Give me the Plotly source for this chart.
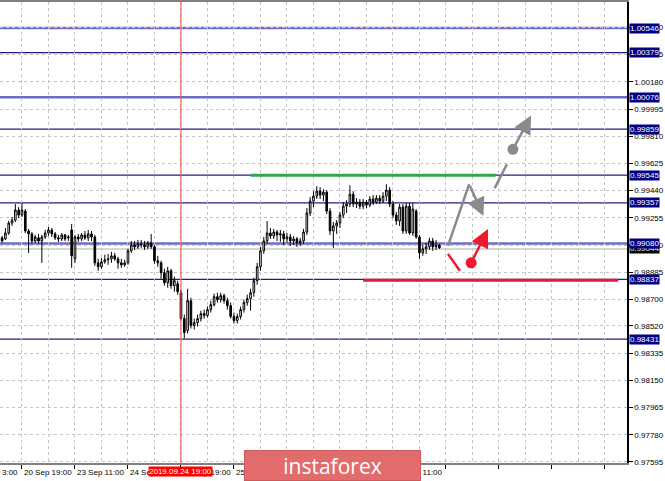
import plotly.graph_objects as go

# ---------------- data (H1 candles) ----------------
opens = [0.99119, 0.99112, 0.99152, 0.99220, 0.99240, 0.99308, 0.99274, 0.99301, 0.99166, 0.99146,
         0.99098, 0.99119, 0.99098, 0.99125, 0.99152, 0.99173, 0.99146, 0.99119, 0.99112, 0.99139,
         0.99119, 0.99173, 0.98976, 0.99125, 0.99112, 0.99139, 0.99119, 0.99146, 0.99125, 0.98949,
         0.98922, 0.98956, 0.98970, 0.98976, 0.98997, 0.98976, 0.98949, 0.98936, 0.98949, 0.99031,
         0.99071, 0.99058, 0.99078, 0.99071, 0.99058, 0.99085, 0.99058, 0.98963, 0.98949, 0.98882,
         0.98814, 0.98895, 0.98794, 0.98807, 0.98746, 0.98570, 0.98489, 0.98692, 0.98523, 0.98543,
         0.98570, 0.98604, 0.98591, 0.98631, 0.98665, 0.98719, 0.98699, 0.98726, 0.98692, 0.98658,
         0.98584, 0.98557, 0.98584, 0.98631, 0.98679, 0.98706, 0.98746, 0.98828, 0.98922, 0.99031,
         0.99098, 0.99152, 0.99132, 0.99159, 0.99139, 0.99146, 0.99112, 0.99125, 0.99098, 0.99112,
         0.99085, 0.99098, 0.99159, 0.99288, 0.99369, 0.99403, 0.99437, 0.99410, 0.99430, 0.99301,
         0.99166, 0.99200, 0.99220, 0.99274, 0.99335, 0.99349, 0.99416, 0.99349, 0.99362, 0.99335,
         0.99362, 0.99342, 0.99383, 0.99362, 0.99389, 0.99369, 0.99403, 0.99444, 0.99349, 0.99274,
         0.99234, 0.99328, 0.99166, 0.99335, 0.99152, 0.99301, 0.99125, 0.99017, 0.99044, 0.99058,
         0.99098, 0.99058, 0.99071]
highs = [0.99132, 0.99186, 0.99234, 0.99261, 0.99349, 0.99328, 0.99356, 0.99315, 0.99180, 0.99159,
         0.99139, 0.99146, 0.99139, 0.99173, 0.99193, 0.99186, 0.99159, 0.99139, 0.99152, 0.99146,
         0.99139, 0.99213, 0.99139, 0.99146, 0.99152, 0.99166, 0.99173, 0.99166, 0.99139, 0.98976,
         0.98983, 0.99004, 0.99010, 0.99024, 0.99017, 0.98990, 0.98976, 0.98970, 0.99044, 0.99098,
         0.99098, 0.99105, 0.99105, 0.99098, 0.99098, 0.99146, 0.99071, 0.98997, 0.98963, 0.98909,
         0.98922, 0.98909, 0.98855, 0.98828, 0.98767, 0.98597, 0.98773, 0.98712, 0.98570, 0.98597,
         0.98624, 0.98631, 0.98652, 0.98692, 0.98740, 0.98746, 0.98746, 0.98740, 0.98712, 0.98679,
         0.98611, 0.98604, 0.98652, 0.98699, 0.98733, 0.98773, 0.98848, 0.98949, 0.99058, 0.99125,
         0.99234, 0.99186, 0.99180, 0.99173, 0.99173, 0.99166, 0.99152, 0.99146, 0.99132, 0.99125,
         0.99119, 0.99180, 0.99322, 0.99396, 0.99437, 0.99471, 0.99464, 0.99450, 0.99444, 0.99322,
         0.99227, 0.99240, 0.99295, 0.99362, 0.99376, 0.99477, 0.99437, 0.99389, 0.99383, 0.99383,
         0.99376, 0.99403, 0.99410, 0.99410, 0.99410, 0.99430, 0.99484, 0.99464, 0.99369, 0.99295,
         0.99349, 0.99349, 0.99356, 0.99356, 0.99356, 0.99315, 0.99139, 0.99071, 0.99085, 0.99119,
         0.99119, 0.99105, 0.99078]
lows = [0.99085, 0.99105, 0.99139, 0.99200, 0.99227, 0.99254, 0.99261, 0.99152, 0.99017, 0.99078,
        0.99085, 0.99078, 0.98949, 0.99112, 0.99132, 0.99125, 0.99105, 0.99092, 0.99098, 0.99098,
        0.99098, 0.98916, 0.98949, 0.99092, 0.99098, 0.99105, 0.99098, 0.99098, 0.98929, 0.98895,
        0.98909, 0.98943, 0.98936, 0.98949, 0.98963, 0.98909, 0.98916, 0.98922, 0.98936, 0.99017,
        0.99037, 0.99044, 0.99051, 0.99037, 0.99044, 0.99044, 0.98943, 0.98922, 0.98841, 0.98794,
        0.98780, 0.98773, 0.98753, 0.98733, 0.98557, 0.98435, 0.98469, 0.98503, 0.98496, 0.98516,
        0.98550, 0.98570, 0.98577, 0.98611, 0.98652, 0.98679, 0.98679, 0.98672, 0.98631, 0.98570,
        0.98536, 0.98536, 0.98564, 0.98611, 0.98658, 0.98624, 0.98719, 0.98800, 0.98895, 0.99010,
        0.99078, 0.99112, 0.99112, 0.99098, 0.99092, 0.99071, 0.99085, 0.99064, 0.99071, 0.99058,
        0.99064, 0.99078, 0.99139, 0.99268, 0.99328, 0.99383, 0.99383, 0.99369, 0.99281, 0.99139,
        0.99051, 0.99146, 0.99186, 0.99254, 0.99288, 0.99328, 0.99328, 0.99322, 0.99315, 0.99315,
        0.99322, 0.99328, 0.99342, 0.99349, 0.99349, 0.99356, 0.99369, 0.99328, 0.99254, 0.99207,
        0.99200, 0.99146, 0.99146, 0.99139, 0.99132, 0.99112, 0.98976, 0.98997, 0.99010, 0.99037,
        0.99031, 0.99037, 0.99044]
closes = [0.99098, 0.99152, 0.99220, 0.99240, 0.99308, 0.99274, 0.99308, 0.99166, 0.99146, 0.99098,
          0.99125, 0.99098, 0.99125, 0.99152, 0.99173, 0.99146, 0.99119, 0.99112, 0.99139, 0.99112,
          0.99125, 0.98997, 0.99125, 0.99112, 0.99139, 0.99119, 0.99146, 0.99125, 0.98949, 0.98922,
          0.98956, 0.98970, 0.98976, 0.98997, 0.98976, 0.98949, 0.98936, 0.98949, 0.99031, 0.99071,
          0.99058, 0.99078, 0.99071, 0.99058, 0.99085, 0.99058, 0.98963, 0.98949, 0.98882, 0.98814,
          0.98895, 0.98794, 0.98828, 0.98753, 0.98570, 0.98475, 0.98692, 0.98523, 0.98543, 0.98570,
          0.98604, 0.98591, 0.98631, 0.98665, 0.98719, 0.98699, 0.98726, 0.98692, 0.98658, 0.98584,
          0.98557, 0.98584, 0.98631, 0.98679, 0.98706, 0.98746, 0.98828, 0.98922, 0.99031, 0.99098,
          0.99152, 0.99132, 0.99159, 0.99139, 0.99146, 0.99112, 0.99125, 0.99098, 0.99112, 0.99085,
          0.99098, 0.99159, 0.99288, 0.99369, 0.99403, 0.99437, 0.99410, 0.99430, 0.99301, 0.99166,
          0.99200, 0.99220, 0.99274, 0.99335, 0.99349, 0.99416, 0.99349, 0.99362, 0.99335, 0.99362,
          0.99342, 0.99383, 0.99362, 0.99389, 0.99369, 0.99403, 0.99444, 0.99349, 0.99274, 0.99234,
          0.99328, 0.99166, 0.99335, 0.99152, 0.99315, 0.99125, 0.99017, 0.99044, 0.99058, 0.99098,
          0.99058, 0.99071, 0.99051]
bars = list(range(len(opens)))

time_labels = ["20 Sep 19:00", "23 Sep 11:00", "24 Sep 03:00", "24 Sep 19:00",
               "25 Sep 11:00", "26 Sep 03:00", "26 Sep 19:00", "27 Sep 11:00"]
time_label_bars = [6, 22, 38, 54, 70, 86, 102, 118]
cut_label = "3:00"
cursor_bar = 54
cursor_label = "2019.09.24 19:00"

price_tick_labels = ["0.97595", "0.97780", "0.97965", "0.98150", "0.98335", "0.98520",
                     "0.98700", "0.98885", "0.99070", "0.99255", "0.99440", "0.99625",
                     "0.99810", "0.99995", "1.00180", "1.00365", "1.00550"]

levels_light = [1.00546, 1.00076, 0.99080]
levels_dark = [1.00379, 0.99859, 0.99545, 0.99357, 0.98837, 0.98431]
current_price = 0.99044

resistance_price = 0.99545
resistance_bars = [75, 149]
support_price = 0.98830
support_bars = [109, 186]

grey_up_x = [134.6, 141.0]
grey_up_y = [0.99064, 0.99484]
grey_pullback_tip = (145.3, 0.99267)
grey_dash_x = [148.7, 152.4]
grey_dash_y = [0.99457, 0.99620]
grey_dot = (154.2, 0.99721)
grey_target_tip = (159.7, 0.99951)
red_seg_x = [134.6, 138.2]
red_seg_y = [0.99010, 0.98895]
red_dot = (141.6, 0.98949)
red_target_tip = (146.7, 0.99179)

X_RANGE = [-0.634, 188.65]
Y_RANGE = [0.97588, 1.00723]

GREY = "#8a8a8a"
RED = "#f0192b"
FONT = "Liberation Sans"

fig = go.Figure()

fig.add_trace(go.Candlestick(
    x=bars, open=opens, high=highs, low=lows, close=closes,
    increasing=dict(line=dict(color="black", width=1), fillcolor="white"),
    decreasing=dict(line=dict(color="black", width=1), fillcolor="black"),
    whiskerwidth=0, showlegend=False, hoverinfo="skip"))

fig.add_trace(go.Scatter(x=grey_up_x, y=grey_up_y, mode="lines",
                         line=dict(color=GREY, width=2.5), showlegend=False, hoverinfo="skip"))
fig.add_trace(go.Scatter(x=grey_dash_x, y=grey_dash_y, mode="lines",
                         line=dict(color=GREY, width=2.5), showlegend=False, hoverinfo="skip"))
fig.add_trace(go.Scatter(x=[grey_dot[0]], y=[grey_dot[1]], mode="markers",
                         marker=dict(color=GREY, size=11), showlegend=False, hoverinfo="skip"))
fig.add_trace(go.Scatter(x=red_seg_x, y=red_seg_y, mode="lines",
                         line=dict(color=RED, width=2.5), showlegend=False, hoverinfo="skip"))
fig.add_trace(go.Scatter(x=[red_dot[0]], y=[red_dot[1]], mode="markers",
                         marker=dict(color=RED, size=11), showlegend=False, hoverinfo="skip"))

shapes = []
shapes.append(dict(type="line", xref="x", yref="paper", x0=cursor_bar, x1=cursor_bar, y0=0, y1=1,
                   line=dict(color="rgba(255,80,80,0.75)", width=1.5), layer="above"))
for lv in levels_light:
    shapes.append(dict(type="line", xref="paper", yref="y", x0=0, x1=1, y0=lv, y1=lv,
                       line=dict(color="rgba(60,60,175,0.75)", width=2.5), layer="below"))
for lv in levels_dark:
    shapes.append(dict(type="line", xref="paper", yref="y", x0=0, x1=1, y0=lv, y1=lv,
                       line=dict(color="#1e1e82", width=1.3), layer="below"))
shapes.append(dict(type="line", xref="paper", yref="y", x0=0, x1=1, y0=current_price, y1=current_price,
                   line=dict(color="#c8c8c8", width=1.5), layer="below"))
shapes.append(dict(type="line", xref="x", yref="y", x0=resistance_bars[0], x1=resistance_bars[1],
                   y0=resistance_price, y1=resistance_price, line=dict(color="#2ea84a", width=3)))
shapes.append(dict(type="line", xref="x", yref="y", x0=support_bars[0], x1=support_bars[1],
                   y0=support_price, y1=support_price, line=dict(color="#e8173c", width=3)))

annotations = []
for tip, start, col in [(grey_pullback_tip, (grey_up_x[1], grey_up_y[1]), GREY),
                        (grey_target_tip, grey_dot, GREY),
                        (red_target_tip, red_dot, RED)]:
    annotations.append(dict(x=tip[0], y=tip[1], ax=start[0], ay=start[1],
                            xref="x", yref="y", axref="x", ayref="y", showarrow=True, arrowhead=2,
                            arrowsize=1.45, arrowwidth=2.5, arrowcolor=col, text=""))

annotations.append(dict(x=0, y=0, xref="paper", yref="paper", xanchor="left", yanchor="top",
                        yshift=-3, text=cut_label, showarrow=False,
                        font=dict(family=FONT, size=8, color="black")))
for b, t in zip(time_label_bars, time_labels):
    annotations.append(dict(x=b, y=0, xref="x", yref="paper", xanchor="left", yanchor="top",
                            yshift=-3, text=t, showarrow=False,
                            font=dict(family=FONT, size=8, color="black")))
annotations.append(dict(x=cursor_bar, y=0, xref="x", yref="paper", xanchor="center", yanchor="top",
                        yshift=-3, text=cursor_label, showarrow=False, bgcolor="#ff0000",
                        borderpad=0, font=dict(family=FONT, size=8, color="white")))
# watermark (drawn over the time labels)
annotations.append(dict(x=332.5 / 627, y=-2.5 / 463, xref="paper", yref="paper", xanchor="center",
                        yanchor="middle", text="instaforex", showarrow=False,
                        width=175, height=29, bgcolor="#e26c6c", bordercolor="#cf5a5a",
                        borderwidth=1, borderpad=0,
                        font=dict(family="Open Sans", size=21, color="white")))

annotations.append(dict(x=1, y=current_price, xref="paper", yref="y", xanchor="left", xshift=2,
                        text=f"{current_price:.5f}", showarrow=False, bgcolor="#000000", borderpad=0,
                        font=dict(family=FONT, size=8, color="white")))
for lv in sorted(levels_light + levels_dark, reverse=True):
    annotations.append(dict(x=1, y=lv, xref="paper", yref="y", xanchor="left", xshift=2,
                            text=f"{lv:.5f}", showarrow=False, bgcolor="#000080", borderpad=0,
                            font=dict(family=FONT, size=8, color="white")))

fig.update_layout(
    width=665, height=481,
    margin=dict(l=0, r=38, t=0, b=18),
    paper_bgcolor="white", plot_bgcolor="white",
    showlegend=False,
    shapes=shapes, annotations=annotations,
    xaxis=dict(range=X_RANGE, rangeslider=dict(visible=False), showticklabels=False,
               tickmode="linear", tick0=6, dtick=16, ticks="outside", ticklen=4, tickcolor="black",
               showgrid=True, gridcolor="#c4c4c4", griddash="3px,3px", gridwidth=1,
               minor=dict(tickmode="linear", tick0=6, dtick=8, showgrid=True, gridcolor="#c4c4c4",
                          griddash="3px,3px", ticks=""),
               showline=True, linecolor="#808080", linewidth=1.5, mirror=True, zeroline=False),
    yaxis=dict(range=Y_RANGE, side="right", tickmode="array",
               tickvals=[float(s) for s in price_tick_labels], ticktext=price_tick_labels,
               ticks="outside", ticklen=4, tickcolor="black",
               tickfont=dict(family=FONT, size=8, color="black"),
               showgrid=True, gridcolor="#c4c4c4", griddash="3px,3px", gridwidth=1,
               showline=True, linecolor="black", linewidth=1.5, zeroline=False),
)

fig.write_html("out.html", config={"displayModeBar": False},
               post_script="document.body.style.margin='0';document.body.style.overflow='hidden';")
